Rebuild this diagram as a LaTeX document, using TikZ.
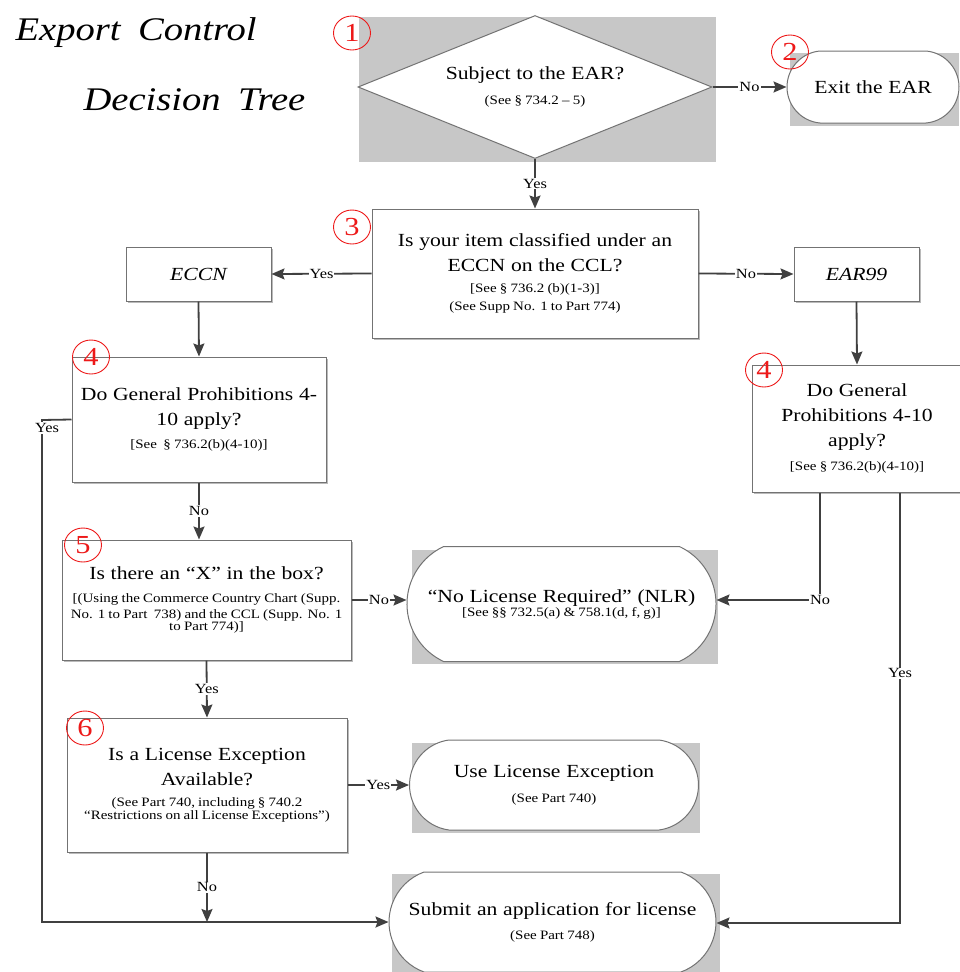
\documentclass[tikz,border=0pt]{standalone}
\usepackage{fontspec}
\setmainfont{Liberation Serif}[FakeStretch=1.17, WordSpace=1.8]
\usetikzlibrary{arrows.meta}
\usetikzlibrary{positioning}
\usetikzlibrary{shapes.geometric}
\usetikzlibrary{shapes.misc}
\usetikzlibrary{shadows}
\definecolor{mred}{rgb}{0.93, 0.1, 0.1}
\definecolor{mgray}{rgb}{0.78, 0.78, 0.78}
\definecolor{mline}{rgb}{0.25, 0.25, 0.25}
\definecolor{mframe}{rgb}{0.45, 0.45, 0.45}
\newcommand{\bigtxt}{\fontsize{18.5}{25}\selectfont\spaceskip=5.8pt\relax}
\newcommand{\smalltxt}{\fontsize{12.8}{16}\selectfont\spaceskip=3.2pt\relax}
\tikzset{qbox/.style = {rectangle, draw=mframe, line width=1pt, fill=white,
                        inner xsep=1pt, inner ysep=0pt, align=center,
                        drop shadow={shadow xshift=2pt, shadow yshift=-2pt,
                                     fill=black!45, opacity=0.6}},
         endbox/.style = {rounded rectangle, rounded rectangle arc length=#1,
                          draw=mframe, line width=1pt, fill=white, inner sep=0pt},
         endbox/.default = 150,
         endtxt/.style = {align=center, text width=340pt, inner sep=0pt},
         flow/.style = {draw=mline, line width=1.8pt,
                        -{Stealth[length=13pt, width=11pt, inset=2pt]}},
         lbl/.style = {fill=white, inner sep=1pt, font=\fontsize{14}{14}\selectfont},
         num/.style = {ellipse, draw=mred, text=mred, line width=0.9pt,
                       minimum width=37pt, minimum height=34pt, inner sep=0pt,
                       font=\fontsize{26}{26}\selectfont}}

\begin{document}
\begin{tikzpicture}[x=1pt, y=-1pt]
    \useasboundingbox (0, 0) rectangle (959, 972);

    % grey backgrounds
    \fill [mgray] (359, 17) rectangle (716, 162);
    \fill [mgray] (790, 53) rectangle (959, 126);
    \fill [mgray] (412, 550) rectangle (718, 664);
    \fill [mgray] (412, 743) rectangle (700, 833);
    \fill [mgray] (392, 874) rectangle (720, 972);

    \node [anchor=base west, font=\fontsize{33}{33}\selectfont\itshape] (title1) at (12, 40) {Export Control};
    \node [anchor=base west, font=\fontsize{33}{33}\selectfont\itshape] (title2) at (80, 110) {Decision Tree};

    \node [diamond, draw=mframe, line width=1pt, fill=white, aspect=2.48,
           minimum width=354pt, minimum height=143pt, inner sep=0pt,
           text width=200pt, align=center] (q1) at (535, 87)
          {\bigtxt Subject to the EAR?\\[11pt] \smalltxt (See § 734.2 – 5)};

    \node [endbox=170, minimum width=172pt, minimum height=72pt] (exit) at (873, 87) {};
    \node [endtxt] (exittxt) at (exit.center) {\bigtxt Exit the EAR};

    \node [qbox, text width=324pt, minimum height=129pt] (q3) at (535, 273.5)
          {\bigtxt Is your item classified under an\\ ECCN on the CCL?\\[5pt]
           \smalltxt [See § 736.2 (b)(1-3)]\\[6pt] (See Supp No. 1 to Part 774)};

    \node [qbox, text width=143pt, minimum height=54pt] (eccn) at (198.5, 274) {\bigtxt\itshape ECCN};
    \node [qbox, text width=123pt, minimum height=54pt] (ear99) at (856.5, 274) {\bigtxt\itshape EAR99};

    \node [qbox, text width=252pt, minimum height=125pt] (q4l) at (199, 419.5)
          {\bigtxt Do General Prohibitions 4-\\ 10 apply?\\[10pt] \smalltxt [See~~§ 736.2(b)(4-10)]};

    \node [qbox, text width=208pt, minimum height=127pt] (q4r) at (857, 428.5)
          {\bigtxt Do General\\ Prohibitions 4-10\\ apply?\\[10pt] \smalltxt [See § 736.2(b)(4-10)]};

    \node [qbox, text width=287pt, minimum height=120pt] (q5) at (206.5, 600)
          {\bigtxt Is there an “X” in the box?\\[7pt]
           \smalltxt [(Using the Commerce Country Chart (Supp.\\ No. 1 to Part~~738) and the CCL (Supp. No. 1\\ to Part 774)]};

    \node [endbox=130, minimum width=309pt, minimum height=115pt] (nlr) at (561.5, 604) {};
    \node [endtxt] (nlrtxt) at (nlr.center)
          {\bigtxt “No License Required” (NLR)\\ \smalltxt [See §§ 732.5(a) \& 758.1(d, f, g)]};

    \node [qbox, text width=278pt, minimum height=134pt] (q6) at (207, 785)
          {\bigtxt Is a License Exception\\ Available?\\[5pt]
           \smalltxt (See Part 740, including § 740.2\\[1pt] “Restrictions on all License Exceptions”)};

    \node [endbox=165, minimum width=289pt, minimum height=90pt] (usele) at (554, 785) {};
    \node [endtxt] (useletxt) at (usele.center) {\bigtxt Use License Exception\\[11pt] \smalltxt (See Part 740)};

    \node [endbox=140, minimum width=327pt, minimum height=100pt] (submit) at (552.5, 922) {};
    \node [endtxt] (submittxt) at (submit.center) {\bigtxt Submit an application for license\\[10pt] \smalltxt (See Part 748)};

    % connectors
    \draw [flow] (q1.east) -- node [lbl] (no1) {No} (exit.west);
    \draw [flow] (q1.south) -- node [lbl] (yes1) {Yes} (q3.north);
    \draw [flow] (q3.west) -- node [lbl] (yes2) {Yes} (eccn.east);
    \draw [flow] (q3.east) -- node [lbl] (no2) {No} (ear99.west);
    \draw [flow] (eccn.south) -- (q4l.north);
    \draw [flow] (ear99.south) -- (q4r.north);
    \draw [flow] (q4l.south) -- node [lbl] (no3) {No} (q4l.south |- q5.north);
    \draw [flow] (q5.east) -- node [lbl] (no4) {No} (q5.east -| nlr.west);
    \draw [flow] (q5.south) -- node [lbl] (yes3) {Yes} (q6.north);
    \draw [flow] (q6.east) -- node [lbl] (yes4) {Yes} (q6.east -| usele.west);
    \draw [flow] (q6.south) -- node [lbl] (no5) {No} (q6.south |- submit.west);

    \coordinate (yesturn) at (42, 420);
    \draw [flow] (q4l.west) -- (yesturn) |- (submit.west);
    \node [lbl] (yes5) at (47, 428) {Yes};

    \coordinate (noturn) at (820, 600);
    \draw [flow] (q4r.south -| noturn) -- (noturn) -- (noturn -| nlr.east);
    \node [lbl] (no6) at (noturn) {No};

    \coordinate (yesturn2) at (900, 923);
    \draw [flow] (q4r.south -| yesturn2) -- node [lbl, pos=0.42] (yes6) {Yes} (yesturn2) -- (yesturn2 -| submit.east);

    % circled step numbers
    \node [num] (n1) at (352, 33) {1};
    \node [num] (n2) at (790, 52) {2};
    \node [num] (n3) at (352, 227) {3};
    \node [num] (n4l) at (91, 357) {4};
    \node [num] (n4r) at (764, 370) {4};
    \node [num] (n5) at (83, 545) {5};
    \node [num] (n6) at (85, 728) {6};
\end{tikzpicture}
\end{document}
